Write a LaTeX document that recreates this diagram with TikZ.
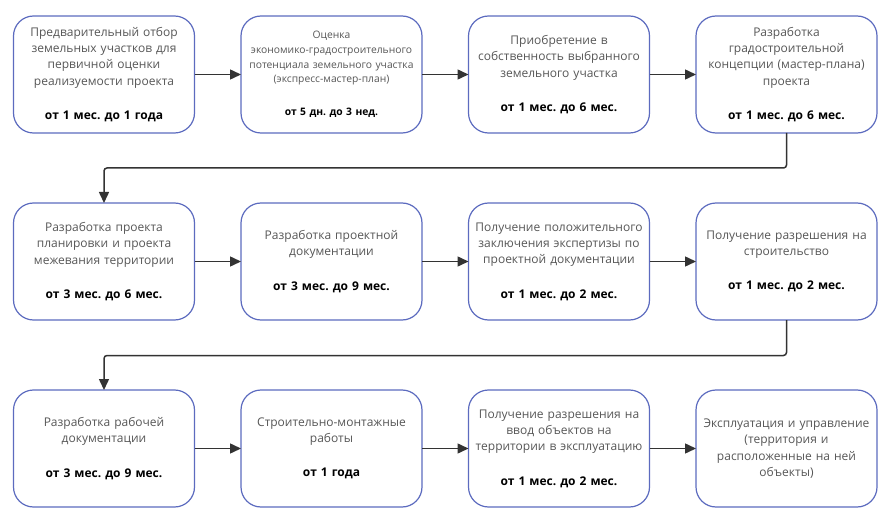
\documentclass[tikz,border=0pt]{standalone}
\usepackage{fontspec}
\setmainfont{Open Sans}
\usetikzlibrary{arrows.meta,positioning}
\definecolor{BoxClr}{rgb}{0.36,0.42,0.75}
\definecolor{TxtClr}{rgb}{0.34,0.34,0.34}
\definecolor{LineClr}{rgb}{0.2,0.2,0.2}
\newcommand{\srok}[1]{\\[18pt]{\color{black}\bfseries #1}}
\frenchspacing

\begin{document}
\begin{tikzpicture}[x=1pt,y=-1pt,
  stage/.style={draw=BoxClr,line width=1.2pt,rounded corners=20pt,fill=white,
    minimum width=181pt,minimum height=117pt,text width=174pt,align=center,
    inner sep=0pt,outer sep=0pt,text=TxtClr,font=\fontsize{12}{16.3}\selectfont},
  link/.style={draw=LineClr,line width=1.5pt,rounded corners=3pt,
    -{Triangle[length=11pt,width=10pt]}},
  node distance=70pt and 46.5pt]
\useasboundingbox (0,0) rectangle (887,516);

% first row
\node[stage,anchor=north west] (b1) at (13.5,16)
  {Предварительный отбор\\земельных участков для\\первичной оценки\\реализуемости проекта\srok{от 1 мес. до 1 года}};
\node[stage,right=of b1,font=\fontsize{10.3}{14.7}\selectfont] (b2)
  {Оценка\\экономико-градостроительного\\потенциала земельного участка\\(экспресс-мастер-план)\srok{от 5 дн. до 3 нед.}};
\node[stage,right=of b2] (b3)
  {Приобретение в\\собственность выбранного\\земельного участка\srok{от 1 мес. до 6 мес.}};
\node[stage,right=of b3] (b4)
  {Разработка\\градостроительной\\концепции (мастер-плана)\\проекта\srok{от 1 мес. до 6 мес.}};

% second row
\node[stage,below=of b1] (b5)
  {Разработка проекта\\планировки и проекта\\межевания территории\srok{от 3 мес. до 6 мес.}};
\node[stage,right=of b5] (b6)
  {Разработка проектной\\документации\srok{от 3 мес. до 9 мес.}};
\node[stage,right=of b6] (b7)
  {Получение положительного\\заключения экспертизы по\\проектной документации\srok{от 1 мес. до 2 мес.}};
\node[stage,right=of b7] (b8)
  {Получение разрешения на\\строительство\srok{от 1 мес. до 2 мес.}};

% third row
\node[stage,below=of b5] (b9)
  {Разработка рабочей\\документации\srok{от 3 мес. до 9 мес.}};
\node[stage,right=of b9] (b10)
  {Строительно-монтажные\\работы\srok{от 1 года}};
\node[stage,right=of b10] (b11)
  {Получение разрешения на\\ввод объектов на\\территории в эксплуатацию\srok{от 1 мес. до 2 мес.}};
\node[stage,right=of b11] (b12)
  {Эксплуатация и управление\\(территория и\\расположенные на ней\\объекты)};

\foreach \a/\b in {b1/b2,b2/b3,b3/b4,b5/b6,b6/b7,b7/b8,b9/b10,b10/b11,b11/b12}
  \draw[link] (\a) -- (\b);

\draw[link] (b4.south) -- ++(0,35) -| (b5.north);
\draw[link] (b8.south) -- ++(0,35.5) -| (b9.north);

\end{tikzpicture}
\end{document}
